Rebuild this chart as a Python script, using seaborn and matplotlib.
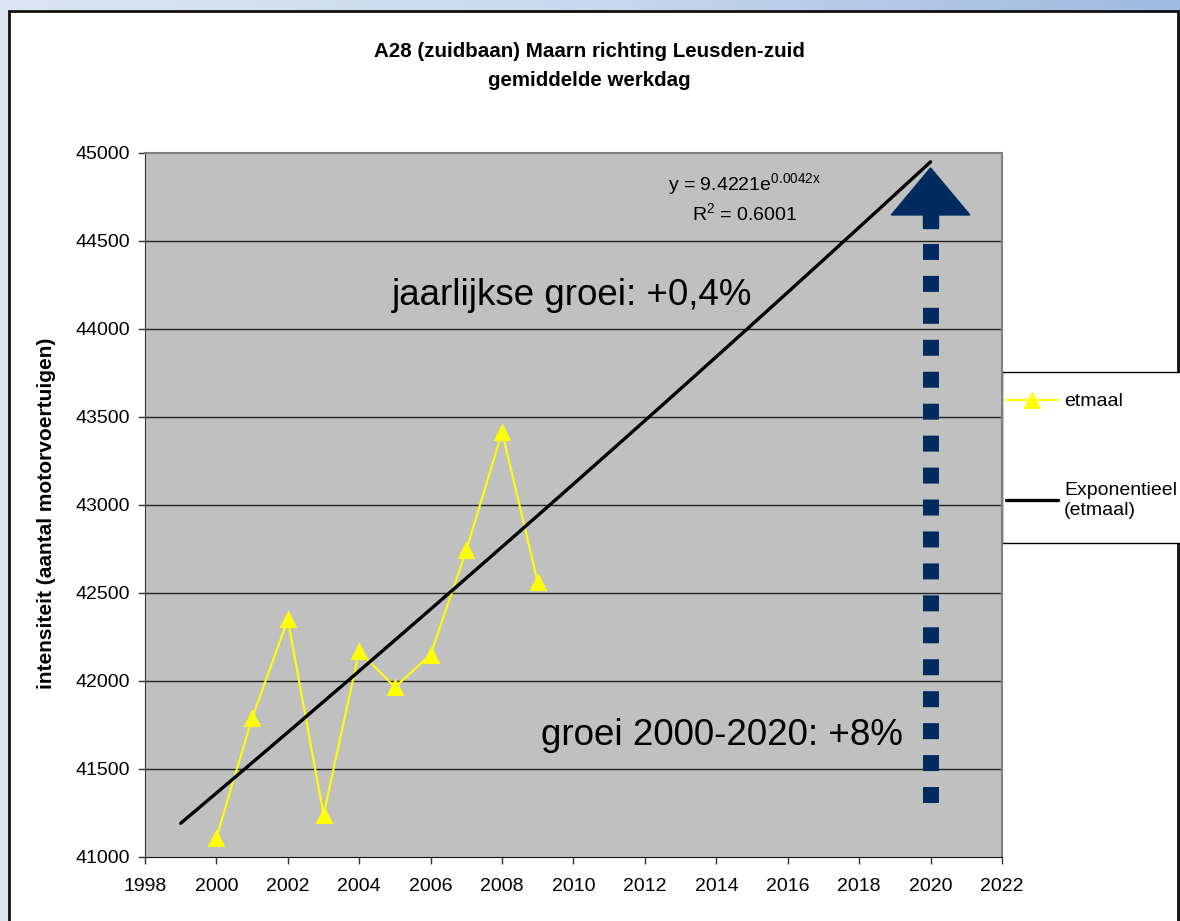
import numpy as np
import pandas as pd
import matplotlib
matplotlib.use('Agg')
import matplotlib.pyplot as plt
import seaborn as sns
from matplotlib.patches import Rectangle
from matplotlib.colors import LinearSegmentedColormap

# data
years = [2000, 2001, 2002, 2003, 2004, 2005, 2006, 2007, 2008, 2009]
etmaal = [41110, 41790, 42350, 41240, 42170, 41965, 42150, 42745, 43415, 42560]

x_ticks = list(range(1998, 2023, 2))
y_ticks = list(range(41000, 45001, 500))

title = 'A28 (zuidbaan) Maarn richting Leusden-zuid\ngemiddelde werkdag'
y_label = 'intensiteit (aantal motorvoertuigen)'

# exponential trendline (Excel style: fit ln(y) against x), drawn 1999-2020
coef = np.polyfit(years, np.log(etmaal), 1)
trend_x = np.linspace(1999, 2020, 300)
trend_y = np.exp(np.polyval(coef, trend_x))

df = pd.DataFrame({'jaar': years, 'etmaal': etmaal})
df_trend = pd.DataFrame({'jaar': trend_x, 'waarde': trend_y})

sns.set_style('white')
plt.rcParams['font.family'] = ['Liberation Sans', 'DejaVu Sans']
plt.rcParams['text.color'] = 'black'
plt.rcParams['xtick.color'] = 'black'
plt.rcParams['ytick.color'] = 'black'

fig = plt.figure(figsize=(11.8, 9.21), dpi=100)

# light blue slide background with white chart area
bg = fig.add_axes([0, 0, 1, 1], zorder=-5)
grad = np.linspace(0, 1, 256).reshape(1, -1)
cmap = LinearSegmentedColormap.from_list('bg', ['#DCE6F2', '#C9D8EE', '#9DBAE0'])
bg.imshow(grad, aspect='auto', cmap=cmap, extent=[0, 1, 0, 1])
bg.set_axis_off()
fig.patches.append(Rectangle((9 / 1180, -0.02), (1178 - 9) / 1180, 1.02 - 11 / 921,
                             transform=fig.transFigure, facecolor='white',
                             edgecolor='#111111', linewidth=2, zorder=-4))

ax = fig.add_axes([145 / 1180, 1 - 857 / 921, (1002 - 145) / 1180, (857 - 153) / 921])
ax.set_facecolor('#C0C0C0')

sns.lineplot(data=df, x='jaar', y='etmaal', ax=ax, color='#FFFF00', linewidth=1.5,
             marker='^', markersize=12, markeredgecolor='#FFFF00', label='etmaal', zorder=3)
sns.lineplot(data=df_trend, x='jaar', y='waarde', ax=ax, color='black', linewidth=2.4,
             label='Exponentieel\n(etmaal)', zorder=4)

ax.set_xlim(1998, 2022)
ax.set_ylim(41000, 45000)
ax.set_xticks(x_ticks)
ax.set_yticks(y_ticks)
ax.tick_params(axis='both', labelsize=14, length=5, width=1, direction='out',
               color='#333333', pad=6)
ax.tick_params(axis='x', bottom=True, pad=10)
ax.tick_params(axis='y', left=True)
ax.set_xlabel('')
ax.set_ylabel('')
for y in y_ticks[1:-1]:
    ax.axhline(y, color='#222222', linewidth=1, zorder=1)

for side in ['top', 'right']:
    ax.spines[side].set_color('#808080')
    ax.spines[side].set_linewidth(1.5)
ax.spines['left'].set_color('#333333')
ax.spines['bottom'].set_color('#111111')

# dotted arrow towards 2020
arrow_color = '#002B60'
ax.plot([2020, 2020], [41307, 44500], color=arrow_color, linewidth=11.5,
        dashes=(1, 1), solid_capstyle='butt', dash_capstyle='butt', zorder=2)
ax.fill([2018.9, 2021.1, 2020.0], [44648, 44648, 44915], color=arrow_color, zorder=2)
ax.fill([2019.78, 2020.22, 2020.22, 2019.78], [44574, 44574, 44648, 44648],
        color=arrow_color, zorder=2)

ax.text(2014.8, 44818, 'y = 9.4221e$^{\\mathregular{0.0042x}}$', fontsize=14, ha='center', va='center')
ax.text(2014.8, 44655, 'R$^{\\mathregular{2}}$ = 0.6001', fontsize=14, ha='center', va='center')
ax.text(2004.92, 44193, 'jaarlijkse groei: +0,4%', fontsize=26.5, ha='left', va='center')
ax.text(2009.09, 41693, 'groei 2000-2020: +8%', fontsize=26.5, ha='left', va='center')

# legend box like Excel, entries placed inside it
fig.patches.append(Rectangle((1002 / 1180, 1 - 543 / 921), 0.2, (543 - 372) / 921,
                             transform=fig.transFigure, facecolor='white',
                             edgecolor='black', linewidth=1, zorder=-3))
leg = ax.legend(loc='upper left', bbox_to_anchor=(1002 / 1180, 1 - 389 / 921),
                bbox_transform=fig.transFigure,
                frameon=False, fontsize=14, handlelength=2.7, labelspacing=3.7,
                borderpad=0, handletextpad=0.3, borderaxespad=0.2)

fig.text(589 / 1180, 1 - 66 / 921, title, ha='center', va='center', fontsize=14.8,
         fontweight='bold', linespacing=1.7)
fig.text(47 / 1180, 1 - 513 / 921, y_label, ha='center', va='center', rotation=90,
         fontsize=15, fontweight='bold')

fig.savefig('out.png', dpi=100)
